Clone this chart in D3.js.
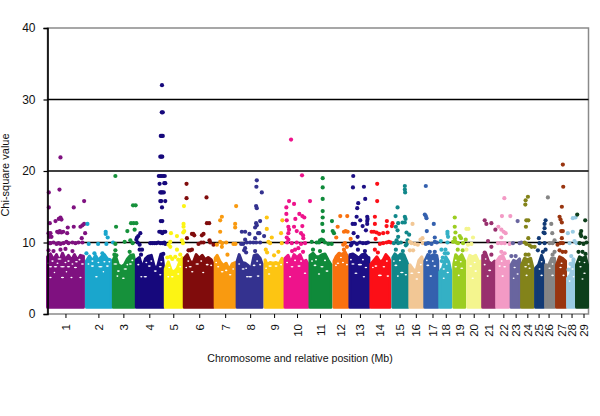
<!DOCTYPE html>
<html><head><meta charset="utf-8">
<script src="https://cdnjs.cloudflare.com/ajax/libs/d3/7.8.5/d3.min.js"></script>
<style>html,body{margin:0;padding:0;background:#fff}svg{display:block}text{font-family:"Liberation Sans",Arial,sans-serif;fill:#111}</style>
</head><body><div id="c"></div>
<script>
const chromosomes = ["1","2","3","4","5","6","7","8","9","10","11","12","13","14","15","16","17","18","19","20","21","22","23","24","25","26","27","28","29"];
const chromColors = ["#7f1180","#1aa6cd","#16913b","#16087c","#fcf414","#800c0c","#f99a10","#34328f","#fdc512","#ee138b","#0f8a3a","#f9710f","#1c0f85","#fc0f17","#11878a","#f2c795","#3460ae","#34b0c5","#9ccd20","#f4f58e","#99306e","#f39ac5","#69659f","#83831a","#123a75","#858585","#99350f","#99cbe3","#0d3f1b"];
const tickPositions = [65,98,123,149,173,199,225,250,274,297,320,341,360,380,399.7,416,432.7,446,460,474,489,503.7,516,527.7,539,549,561.7,572,584];
const yTicks = [0,10,20,30,40];

// top of the dense band of each chromosome: [position, chi-square]
const denseTop = [
 [[47,8.0],[50,8.4],[53,7.6],[56,8.3],[59,7.3],[62,8.5],[65,7.6],[68,8.2],[71,7.5],[74,8.3],[77,7.5],[80,8.2],[83,8.1]],
 [[86,7.4],[89,8.1],[92,7.4],[95,8.2],[98,7.5],[101,8.0],[104,8.3],[107,7.7],[110,7.6],[111,7.0]],
 [[113,7.6],[115,8.2],[118,6.9],[121,6.6],[124,6.9],[127,7.7],[130,8.2],[133,8.3],[134,7.6]],
 [[136,7.6],[139,7.9],[142,6.4],[145,7.7],[148,8.1],[151,8.2],[154,6.6],[157,6.5],[160,8.1],[162,8.1],[163,7.0]],
 [[165,6.3],[168,7.3],[171,6.1],[174,5.9],[177,6.4],[180,7.5],[182,7.9]],
 [[184,7.8],[187,8.3],[190,7.3],[193,7.2],[196,8.3],[199,7.8],[202,8.2],[205,7.6],[208,7.9],[211,7.6],[213,7.0]],
 [[215,7.8],[217,8.2],[220,7.3],[223,6.8],[226,7.1],[229,6.2],[232,7.0],[235,7.2]],
 [[237,7.4],[239,8.3],[242,7.2],[245,7.1],[248,6.8],[251,6.3],[254,8.2],[257,8.3],[260,7.8],[262,7.0]],
 [[265,7.6],[267,6.9],[270,7.2],[273,7.1],[276,7.2],[279,7.0],[282,7.8],[283,7.4]],
 [[285,7.8],[288,8.2],[291,7.2],[294,8.3],[297,7.9],[300,8.3],[303,7.3],[306,7.5],[308,7.0]],
 [[310,8.2],[313,8.5],[316,8.0],[319,8.0],[322,8.3],[325,8.4],[328,7.6],[331,6.9]],
 [[334,7.4],[336,8.0],[339,8.5],[342,8.3],[345,8.7],[348,7.9]],
 [[350,8.3],[353,8.4],[356,8.1],[359,7.8],[362,8.3],[365,8.4],[368,7.9],[369,7.9]],
 [[371,7.0],[374,7.5],[377,8.0],[380,7.3],[383,7.5],[386,8.3],[389,7.8],[390,7.4]],
 [[393,7.9],[395,8.4],[398,8.0],[401,8.4],[404,8.3],[407,7.3],[408,6.9]],
 [[410,6.9],[413,6.3],[416,5.9],[419,7.5],[422,8.0],[423,7.4]],
 [[425,7.4],[428,8.3],[431,8.1],[434,8.3],[437,8.2],[438,7.4]],
 [[440,5.9],[443,6.5],[446,8.0],[449,7.3],[451,6.0]],
 [[454,7.0],[456,8.3],[459,7.8],[462,8.3],[465,7.4]],
 [[468,7.4],[470,8.2],[473,8.0],[476,8.2],[479,7.3],[481,7.4]],
 [[483,8.2],[486,8.5],[489,7.3],[492,7.0],[495,7.4]],
 [[497,7.4],[500,8.0],[503,8.2],[506,7.3],[509,7.4]],
 [[511.5,6.9],[514,7.5],[517,7.3],[520,7.7]],
 [[522,6.9],[525,7.8],[528,7.6],[531,7.8],[533.5,6.4]],
 [[536,6.4],[539,6.9],[542,8.2],[544,7.4]],
 [[546,6.9],[549,6.8],[552,7.8],[555,7.8]],
 [[557,6.9],[560,8.0],[563,7.8],[566,7.4]],
 [[568,5.0],[571,5.5],[574,7.7],[575,6.0]],
 [[577,6.9],[580,8.0],[583,7.8],[586,8.0],[588,6.9]]
];
const denseBase = 0.95;

// white holes inside the dense band: [position, chi-square, half-width]
const bandGaps = [
 [59,7.7,2.0],[50,6.6,1.6],[55,6.6,1.8],[62,6.6,2.4],[68,6.6,1.7],[75,6.5,1.6],[82,7.0,1.5],[50,5.1,1.2],[62,5.1,1.6],[71,5.1,1.1],[80,5.1,1.2],[52,7.4,1.2],[68,7.4,1.2],[76,7.3,1.4],[47.5,7.1,0.9],[57,7.1,1],[65,7.2,1],[72,7.0,1],[79,7.6,1],[54,5.8,0.8],[66,5.9,0.8],
 [92,6.7,1.6],[100,6.6,2.2],[107,6.7,1.5],[96,5.2,1.3],[92,7.4,1.1],[104,7.3,1.1],[88,7.0,1],[98,7.2,1],[109,7.3,1],[103,5.9,0.8],
 [118,6.0,1.5],[125,6.3,1.8],[115,7.0,2],[130,7.0,1.5],[123,5.0,1.4],[117,5.3,1],[132,7.5,1],[127,6.9,0.9],
 [145,5.2,1.8],[155,6.0,1.5],[160,6.6,1.5],[160,5.5,1.1],[141,5.2,1.1],[149,6.7,1.5],[138,6.9,1.1],[146,7.2,1],[151,7.4,1],[161,7.3,1],
 [172,5.2,1.3],[178,5.6,1.1],[168,5.2,1],[169,6.5,1],[180,6.6,1],
 [190,6.6,1.6],[197,7.0,1.8],[207,6.9,1.5],[192,5.9,1.2],[203,5.8,1.1],[188,7.4,1],[201,7.4,1],[211,6.8,1],[186,6.5,0.9],
 [222,5.9,1.4],[230,5.5,1.3],[218,6.6,1.1],[226,6.1,1.2],[216,7.2,0.9],[233,6.3,1],
 [243,6.3,1.5],[250,5.2,2.2],[258,5.3,1.4],[254,6.8,1.4],[247,5.2,1.2],[239,7.0,1],[257,7.4,1],[260,6.9,1],[246,6.4,0.9],
 [270,6.7,1.8],[276,6.7,1.5],[269,5.6,1.2],[281,6.9,1],[266,6.4,0.9],
 [292,6.6,1.4],[299,6.7,1.6],[305,5.7,1.3],[290,5.2,1.1],[287,7.2,1],[295,7.5,1],[301,7.4,1],
 [315,6.8,1.4],[322,6.6,1.6],[327,6.0,1.5],[319,5.6,1.2],[316,7.6,1],[312,7.4,1],[325,7.5,1],
 [338,7.1,1.3],[343,7.2,1.1],[347,6.9,1],[341,7.9,1],[336,6.8,0.9],
 [353,7.0,1.6],[360,6.9,2.2],[366,6.5,1.3],[356,5.7,1.5],[364,5.2,1.2],[351,7.6,0.9],[363,7.6,1],
 [376,6.7,1.4],[384,6.6,1.3],[380,5.4,2],[388,5.3,1.3],[373,6.5,0.9],[387,7.4,1],
 [396,6.8,1.5],[402,5.8,1.8],[406,5.5,1.2],[398,5.3,1],[400,7.5,1],[394,7.4,0.9],
 [412,5.7,1.6],[419,5.8,1.4],[417,4.9,1.3],[421,6.9,1],
 [428,6.8,1.5],[435,6.7,1.4],[431,5.3,1.3],[427,7.5,0.9],[433,7.4,1],
 [444,6.3,1.2],[448,5.8,1.2],[444,5.0,1],[447,7.0,0.9],
 [456,6.6,1.3],[462,6.4,1.5],[459,5.4,1],[456,7.5,0.9],[461,7.3,1],
 [471,6.7,1.4],[476,6.0,1.3],[473,5.0,1.2],[475,7.2,1],
 [490,6.1,1.5],[485,6.9,1],[488,5.3,1.1],[486,7.7,0.9],
 [500,6.7,1.2],[505,6.6,1.4],[503,5.3,1.2],[502,7.4,1],
 [515,6.5,1.2],[518,5.6,1.1],[514,5.0,0.9],
 [526,6.6,1.4],[530,6.4,1.1],[527,5.4,1.1],[529,7.0,1],
 [540,6.3,1],[542,5.4,1.2],[542,7.3,0.9],
 [550,6.4,1.2],[553,5.4,1.3],[553,7.0,0.9],
 [561,6.5,1.2],[564,5.4,1.1],[562,7.1,1],
 [570,4.6,1],[573,6.3,1.2],[574,5.2,0.9],
 [581,6.6,1.2],[585,5.7,1.3],[583,4.9,1.1],[580,7.3,0.9],[585,7.2,0.9]
];

// individual points above the band, one list per chromosome: [position, chi-square]
const peaks = [
 [[60,21.9],[59,17.4],[48.3,17],[48.3,14.9],[73.3,14.9],[83.7,15.8],[49.3,12.7],[58.3,13.3],[60,13.5],[61,13.2],[55,13],[73.3,12.2],[80,12.2],[82,12.4],[83.7,12.6],[67.3,12.1],[50,11.3],[48,11.3],[51,10.8],[49,10.8],[56.7,11.5],[58,11.4],[59.3,11.6],[61,11.4],[62.7,11.5],[66.7,11.3],[84.7,11.3],[81.3,10.6],[49,9.9],[50,9.9],[53,10],[56,9.8],[58,9.9],[60,9.8],[63,9.9],[66,10.1],[68,9.9],[72,10],[75,9.9],[78,10],[82,10],[48,8.9],[53,8.8],[60,9.0],[65,9.1],[72,8.8]],
 [[87,12.6],[105.3,11.5],[105.3,11.2],[107.3,10.7],[88.3,9.8],[97.7,9.8],[106,9.8],[112.7,10],[86,8.5],[94,8.5],[102,8.5]],
 [[115,19.3],[115.7,12.2],[132.7,15.2],[135.3,15.2],[130.7,12.7],[133.3,12.7],[136,12.7],[127,11.6],[134.3,11.8],[124.3,10.1],[130,10.3],[132.3,9.9],[115,9.8],[115,8.9],[129.3,8.7],[114,8.3],[116,8.2]],
 [[161.7,32],[161.5,28.2],[162.5,28.2],[160.5,24.9],[161.5,24.9],[162.5,24.9],[160,22],[161,22],[162,22],[158.5,19.3],[160,19.3],[161.5,19.3],[163,19.3],[164.5,19.3],[159.3,18.2],[164,18.3],[165,18.3],[160,17],[161,17],[162,17],[163.5,17],[160,15.8],[161,15.8],[165,15.8],[161.7,14.9],[160.5,13],[162,13],[159,11.5],[160.5,11.5],[162,11.3],[163.5,11.5],[165,11.5],[150,9.9],[152,9.9],[154,9.9],[156,9.9],[158,10],[160,9.9],[162,9.9],[164,10],[165,9.8],[140,11.3],[136.7,10.7],[138,10.9],[136,10.4],[137.3,10],[139.3,9.7],[141.7,9],[140.7,8.3],[139.3,9],[161,8.3],[163,8.4]],
 [[183.7,15.1],[170.7,11.3],[176.7,10.9],[183,11.4],[184,11.6],[183.3,12.6],[183.3,12.2],[170,10.1],[168.3,9.7],[170,9.4],[181.7,10.3],[182.7,9.9],[170,8],[176.7,9],[175,8],[180,8.3],[167,7.9],[172,7.7],[178,7.6]],
 [[186.3,18.2],[186.3,16.2],[206.3,16.3],[206.7,12.7],[209,12.7],[191.7,11.2],[193,11.2],[194,11],[201.7,11],[203.3,11.2],[186.7,10.6],[198.3,9.8],[203.3,10],[209.3,10.3],[213.3,9.7],[188.3,8.9],[191.7,9],[190,8.9],[201,10],[210,10]],
 [[236,15.1],[221.7,13.6],[220,13.1],[235,12.6],[235,12.1],[220,11.5],[220,10.1],[216.7,9.7],[221.7,9.4],[226,10],[233.3,9.8],[235.3,9.8],[227.3,8.3],[222,9.9]],
 [[256.7,18.7],[256.3,17.8],[261.7,17],[256,15.1],[256.7,14.8],[256,12.7],[260,13],[255,12.1],[256.7,12.4],[241.7,11.5],[245,11.5],[249.3,11.2],[258,11.3],[259.3,11.3],[264,10.9],[255,10.6],[245,10.4],[246.7,10],[250,10],[253.3,10],[256,10],[260,10],[245,9.2],[243,9.8],[241,9.8],[244,8.9],[246,8.6],[255,8.8]],
 [[266.7,13.5],[266.7,11.9],[271.7,10.7],[268.3,10.1],[270,9.9],[265.7,9],[281,11.3],[282.3,13.1],[281.7,9.9],[278.3,8.7],[274,8.2],[267,8.6]],
 [[291,24.4],[302,19.4],[289,15.8],[294,15.4],[310,15.8],[286.3,14.9],[286.3,14],[295.3,13.3],[299.3,14],[302.3,13.7],[304.3,13.5],[286.7,13.1],[288.3,12.2],[294,12.2],[302.3,12.3],[289,11.8],[288.3,11.3],[296.7,11.6],[301,11.3],[303,11],[286.7,10.7],[288.3,10.4],[303.3,10.6],[287,10],[291.7,9.9],[296.7,10],[301,9.8],[305,9.9],[295,9],[298.3,9.2],[292,8.8],[303,8.7]],
 [[322.7,19],[322.7,17.7],[322.7,16.1],[322.7,14.4],[322.7,13.5],[322.3,12.6],[323,11.6],[332,13],[332.7,11.6],[334,11.3],[320,10.3],[321.7,10.4],[323.3,10.3],[316.7,10],[311.7,10.1],[328.3,9.8],[331.7,9.8],[319,10],[325,10],[313,9],[320,8.8]],
 [[340.3,13.7],[347.3,13.7],[337.7,12.2],[344,11.5],[345.7,11.6],[347.7,11.5],[336.3,10.7],[350.7,10.5],[345,9.9],[343.3,9.7],[347,9.4],[344,9.0]],
 [[353.3,19.3],[353,17.7],[364,17.8],[365.3,16.1],[358.3,15.5],[357.3,14.8],[356.7,13.6],[367.3,13.6],[367.7,13.3],[367.3,13.0],[367.3,12.6],[360.3,13.1],[355,12.6],[352.7,12.6],[362.7,12.3],[366,11.7],[353.7,11.3],[357.7,10.8],[352,9.9],[354,10],[357,9.8],[360,10],[363,9.9],[366,9.9],[368,10],[351,9.6],[358,9],[365,8.8]],
 [[377.3,18.2],[377.3,15.8],[375,13.6],[387,13],[375,12.6],[392.7,12.7],[392,12.3],[386.7,12.3],[371.7,11.5],[374,11.5],[376.7,11.4],[379.3,11.2],[383.3,11.3],[387.7,11.4],[375.7,10.5],[380,9.8],[383.3,9.9],[386.7,10],[375,9],[391,10],[389,10.1],[378,8.6]],
 [[405,17.9],[405,17.4],[405.3,17],[397.7,14.9],[395.7,13.7],[405,13.6],[405.7,13.3],[402.7,12.8],[405,12.8],[398.3,12.7],[396,12.2],[397.7,11.7],[406.7,11.4],[409.3,11.1],[398.3,10.8],[396.7,10.3],[398.3,9.9],[407.7,10.3],[401,10],[394,9.9],[406,9.6],[407,9.8],[396,9],[403,8.8]],
 [[412.7,12.6],[422.7,10.6],[420.7,10.4],[411.7,9.9],[415,9.8],[410,10.1],[418,9.7],[410,8.9],[413.3,8.9],[423,9.9]],
 [[426,17.9],[425,13.9],[426,13.7],[426.7,13.4],[434,12.6],[427,11.6],[435,10.7],[428.3,9.9],[431.7,9.8],[435,10.1],[426,9.8],[430,8.7],[435,8.7],[437,10]],
 [[447.7,11.5],[447.7,11.2],[448.3,10.8],[441,10.2],[447.7,10],[441.7,9],[445.7,9],[445,8.5],[448,8.5],[443,7.9],[442,7.4]],
 [[455,13.5],[455,12.2],[455.7,11.4],[455,10.6],[461.3,10.6],[460,10.9],[466,10.4],[455,10.3],[453.3,10.1],[456.7,10],[458.3,9.9],[463.3,9.9],[458,9],[463,8.9]],
 [[466.7,11.9],[468.7,11.9],[473.3,10.7],[468.3,9.7],[471.7,9.8],[466.7,9]],
 [[485,13.1],[486.7,12.6],[491.7,12.7],[495.7,11.8],[488.3,10.2],[491.7,9.4],[485,8.6],[491.7,8.3]],
 [[504.7,16.2],[502.3,13.7],[510.7,13.7],[498.7,12.2],[501.7,11.8],[504,11.5],[506,11.3],[501.7,10.7],[498.3,9.9],[501.7,9.9],[505,9.9],[510,9.8],[501.7,8.7],[505,8.5]],
 [[518,13],[513.3,9.9],[520,9.9],[521.7,10],[511.7,8.1],[516,8.1]],
 [[528.3,16.4],[526,15.9],[525.7,15.3],[526.7,13.1],[528.7,13.1],[526.3,12.2],[528.7,10.6],[525,10],[526.7,9.8],[530,9.6],[535,9.4],[532,9.4],[526,8.3],[529,8.3]],
 [[546,13.1],[545,12.6],[545,12],[544,11.4],[545,11.3],[539.3,10.6],[540,9.9],[545,9.9],[538.3,8.9],[543.3,8.7],[546,9]],
 [[548.3,16.3],[551.7,12.6],[552.7,11.3],[555,10.3],[550,9.9],[553,9.9],[555,8.7],[553,8.3]],
 [[563.3,20.9],[563.7,17.8],[562.3,15],[560,13.6],[561,13.2],[562.3,12.8],[561.7,11.6],[563.3,11.6],[562.3,10.6],[561,9.9],[563.3,9.9],[558,9.7],[560,8.9],[563,8.7],[566,8.7]],
 [[573.3,13.4],[576,13.5],[568.3,11.3],[573.3,11.5],[570,9.9],[575,10.2],[577,9.9],[571.7,8.1],[574,7.6],[569,6.2],[571,7.0]],
 [[577.7,13.9],[585.7,13.1],[581.7,11.6],[581,11.2],[581.7,10.9],[585.7,10.7],[580,9.9],[587,10],[584,9.8],[579,8.7],[583,8.7],[586,8.4]]
];

const W = 600, H = 416;
const x = d3.scaleLinear().domain([47,589]).range([47.5,588.5]);
const y = d3.scaleLinear().domain([0,40]).range([314,28]);
const svg = d3.select("#c").append("svg").attr("width",W).attr("height",H);

// frame
svg.append("rect").attr("x",x(47)).attr("y",y(40)).attr("width",x(589)-x(47)).attr("height",y(0)-y(40))
  .attr("fill","#fff").attr("stroke","#8a8a8a").attr("stroke-width",1.5);
// gridlines
svg.append("g").selectAll("line").data([10,20,30]).join("line")
  .attr("x1",x(47)).attr("x2",x(589)).attr("y1",d=>y(d)).attr("y2",d=>y(d))
  .attr("stroke","#000").attr("stroke-width",1.6);

// dense bands
const area = d3.area().x(d=>x(d[0])).y1(d=>y(d[1])).y0(y(denseBase)).curve(d3.curveLinear);
svg.append("g").selectAll("path").data(denseTop).join("path")
  .attr("d",d=>area(d))
  .attr("fill",(d,i)=>chromColors[i]).attr("stroke",(d,i)=>chromColors[i])
  .attr("stroke-width",3).attr("stroke-linejoin","round");
// holes
svg.append("g").selectAll("ellipse").data(bandGaps).join("ellipse")
  .attr("cx",d=>x(d[0])).attr("cy",d=>y(d[1])).attr("rx",d=>d[2]).attr("ry",0.8).attr("fill","#fff");
// points
peaks.forEach((list,i)=>{
  svg.append("g").selectAll("circle").data(list).join("circle")
    .attr("cx",d=>x(d[0])).attr("cy",d=>y(d[1])).attr("r",2.1).attr("fill",chromColors[i]);
});

// y axis
const yAxis = d3.axisLeft(y).tickValues(yTicks).tickSize(4).tickPadding(8);
const gy = svg.append("g").attr("transform",`translate(${x(47)},0)`).call(yAxis);
gy.select(".domain").attr("stroke","#000").attr("stroke-width",1.6);
gy.selectAll(".tick line").attr("stroke","#000").attr("stroke-width",1.2);
gy.selectAll("text").attr("font-size",12).style("font-family",'"Liberation Sans",Arial,sans-serif').attr("fill","#111");

// x axis
const xAxis = d3.axisBottom(x).tickValues(tickPositions).tickSize(4).tickFormat((d,i)=>chromosomes[i]);
const gx = svg.append("g").attr("transform",`translate(0,${y(0)})`).call(xAxis);
gx.select(".domain").remove();
gx.selectAll(".tick line").attr("stroke","#000").attr("stroke-width",1);
gx.selectAll("text").attr("font-size",11.5).style("font-family",'"Liberation Sans",Arial,sans-serif').attr("fill","#111")
  .attr("transform","rotate(-90)").attr("text-anchor","end").attr("x",-10).attr("y",0).attr("dy","0.35em");

svg.append("text").attr("x",300).attr("y",362).attr("text-anchor","middle").attr("font-size",10.6).text("Chromosome and relative position (Mb)");
svg.append("text").attr("transform","translate(9,175) rotate(-90)").attr("text-anchor","middle").attr("font-size",11).text("Chi-square value");
</script>
</body></html>
